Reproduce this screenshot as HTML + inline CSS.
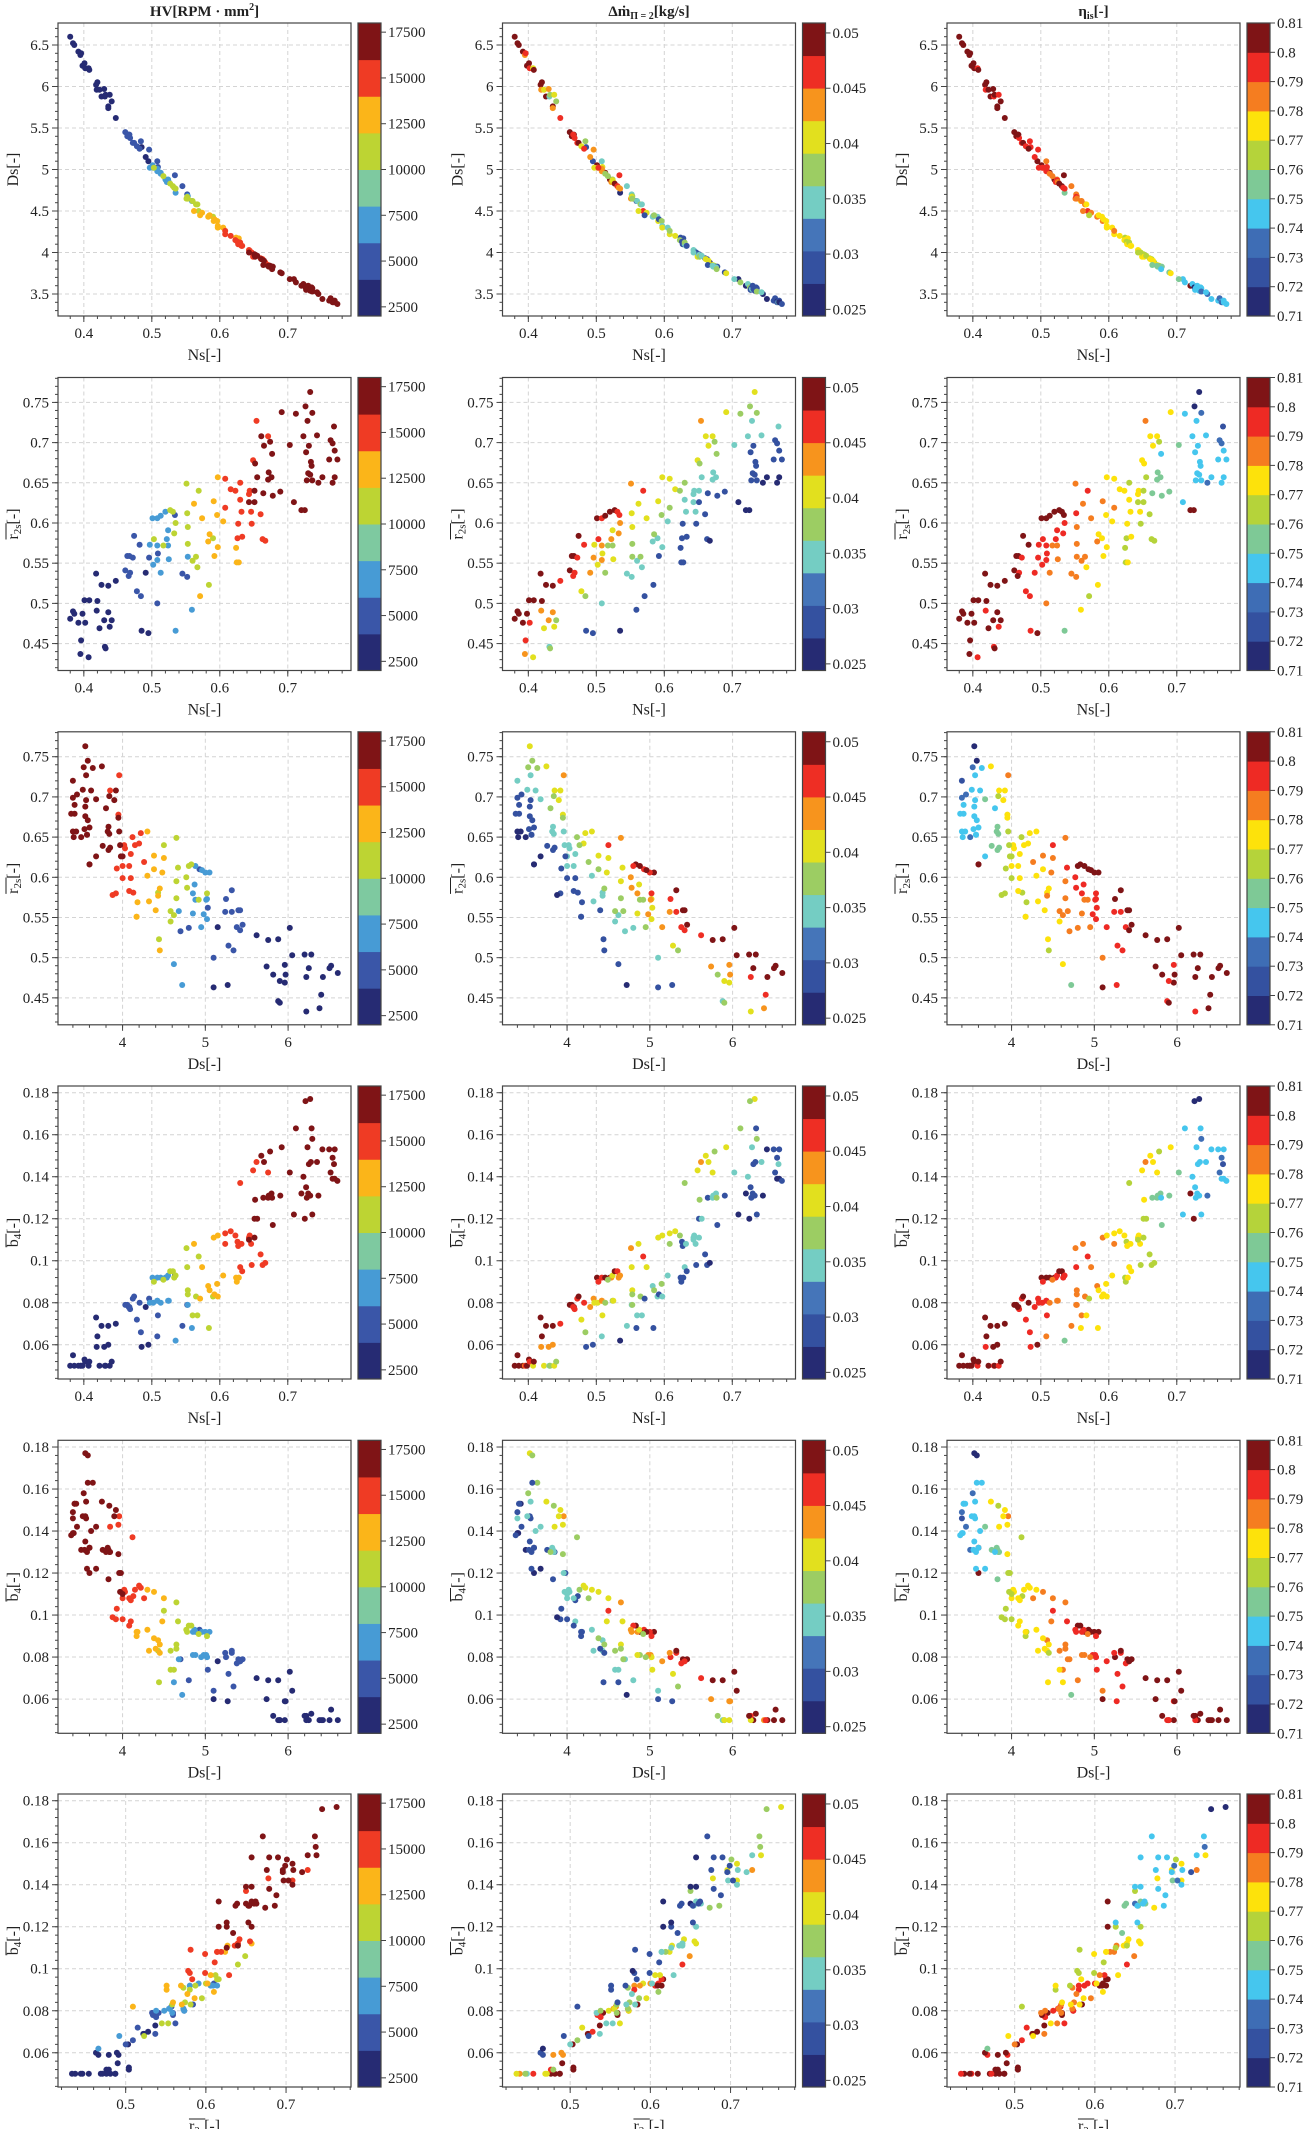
<!DOCTYPE html>
<html><head><meta charset="utf-8">
<style>
html,body{margin:0;padding:0;background:#fff;}
svg{display:block;font-family:"Liberation Serif","DejaVu Serif",serif;}
</style></head>
<body>
<svg id="fig" width="1308" height="2129" viewBox="0 0 1308 2129" xmlns="http://www.w3.org/2000/svg"></svg>
<script>
// ---- data (one entry per design sample) ----
const ns = [.380,.384,.386,.392,.395,.396,.398,.401,.402,.407,.408,.418,.419,.420,.423,.426,.430,.431,.432,.436,.436,.438,.441,.447,.485,.495,.491,
.461,.464,.467,.468,.466,.472,.474,.478,.482,.484,.496,.508,.509,.534,.545,.552,
.501,.508,.513,.520,.497,.508,.502,.508,.513,.522,.524,.524,.525,.535,.553,.559,
.503,.517,.527,.531,.535,.533,.551,.552,.553,.553,.560,.565,.567,.569,.584,.590,
.562,.574,.571,.583,.585,.591,.592,.596,.597,.597,.605,.624,.625,.628,
.608,.608,.616,.623,.626,.627,.630,.630,.632,.633,.643,.644,.646,.647,.649,.654,.660,.663,.667,.671,
.643,.651,.651,.652,.655,.661,.665,.674,.678,.689,.691,.709,.720,.725,.733,.736,.745,
.664,.671,.672,.676,.677,.703,.712,.723,.726,.727,.728,.729,.730,.731,.733,.734,.735,.736,.743,.751,.761,.763,.766,.766,.768,.769,.769,.773];
const ds = [6.6,6.52,6.5,6.42,6.38,6.4,6.25,6.28,6.22,6.22,6.2,6.02,5.96,6.05,5.96,5.88,5.97,5.88,5.9,5.76,5.74,5.9,5.82,5.62,5.27,5.1,5.15,
5.45,5.4,5.42,5.38,5.42,5.32,5.32,5.28,5.25,5.34,5.24,5.1,5.03,4.93,4.8,4.7,
5.05,5.0,4.96,4.88,5.02,5.01,5.02,4.98,4.95,4.85,4.88,4.87,4.85,4.72,4.68,4.62,
5.02,4.92,4.83,4.8,4.77,4.78,4.65,4.67,4.65,4.65,4.62,4.58,4.58,4.5,4.44,4.43,
4.5,4.48,4.45,4.43,4.45,4.38,4.4,4.38,4.32,4.3,4.3,4.18,4.17,4.17,
4.22,4.26,4.2,4.15,4.13,4.1,4.1,4.12,4.08,4.08,4.03,4.02,4.0,4.0,3.95,3.96,3.93,3.92,3.88,3.85,
4.0,3.98,3.97,3.95,3.96,3.92,3.9,3.84,3.83,3.76,3.75,3.68,3.6,3.6,3.55,3.57,3.5,
3.85,3.84,3.83,3.82,3.8,3.68,3.64,3.62,3.58,3.55,3.57,3.56,3.6,3.56,3.54,3.55,3.58,3.53,3.52,3.44,3.42,3.45,3.41,3.4,3.4,3.42,3.4,3.38];
const r2s = [.481,.490,.487,.476,.437,.454,.487,.504,.476,.433,.504,.537,.491,.503,.469,.523,.479,.446,.444,.522,.489,.471,.479,.528,.466,.463,.538,
.541,.559,.559,.538,.534,.557,.584,.515,.573,.509,.557,.500,.562,.610,.537,.533,
.606,.606,.609,.614,.573,.572,.548,.554,.538,.580,.572,.591,.555,.466,.558,.492,
.580,.572,.616,.614,.600,.587,.649,.612,.595,.574,.553,.558,.545,.640,.523,.581,
.624,.606,.509,.577,.586,.627,.559,.610,.570,.657,.602,.569,.551,.551,
.655,.619,.642,.640,.581,.599,.629,.650,.614,.583,.636,.640,.614,.599,.678,.727,.611,.580,.578,.708,
.626,.626,.640,.674,.657,.708,.696,.701,.634,.639,.738,.626,.616,.616,.763,.653,.650,
.637,.654,.663,.657,.686,.697,.736,.708,.745,.688,.653,.727,.662,.696,.660,.676,.671,.737,.709,.657,.679,.703,.650,.699,.720,.690,.657,.679];
const b4 = [.050,.055,.050,.050,.050,.050,.050,.053,.052,.050,.052,.073,.059,.064,.050,.069,.059,.050,.050,.069,.060,.050,.052,.070,.059,.060,.078,
.079,.079,.078,.077,.078,.082,.083,.072,.080,.066,.082,.064,.074,.093,.069,.079,
.092,.092,.092,.092,.080,.081,.080,.081,.080,.092,.081,.093,.081,.062,.079,.068,
.090,.091,.095,.095,.093,.092,.106,.097,.086,.084,.074,.083,.074,.102,.068,.083,
.108,.097,.082,.088,.086,.111,.084,.089,.083,.112,.093,.092,.090,.092,
.113,.108,.114,.112,.109,.107,.097,.137,.108,.095,.111,.112,.108,.098,.143,.147,.103,.098,.099,.142,
.110,.120,.111,.129,.120,.150,.147,.152,.117,.131,.154,.122,.132,.120,.177,.122,.131,
.130,.130,.131,.132,.130,.142,.163,.140,.176,.135,.130,.154,.132,.146,.131,.147,.163,.158,.147,.153,.153,.142,.139,.149,.146,.153,.139,.138];
const hv = [3000,3000,3000,3000,3000,3000,3000,3000,3000,3000,3000,3000,3000,3000,3000,3000,3000,3000,3000,3000,3000,3000,3000,3000,3000,3000,3000,
5000,5000,5000,5000,5000,5000,5000,5000,5000,5000,5000,5000,5000,5000,5000,5000,
7500,7500,7500,7500,7500,7500,7500,7500,7500,7500,7500,7500,7500,7500,7500,7500,
10000,10000,10000,10000,10000,10000,10000,10000,10000,10000,10000,10000,10000,10000,10000,10000,
12000,12000,12000,12000,12000,12000,12000,12000,12000,12000,12000,12000,12000,12000,
14000,14000,14000,14000,14000,14000,14000,14000,14000,14000,14000,14000,14000,14000,14000,14000,14000,14000,14000,14000,
16000,16000,16000,16000,16000,16000,16000,16000,16000,16000,16000,16000,16000,16000,16000,16000,16000,
17500,17500,17500,17500,17500,17500,17500,17500,17500,17500,17500,17500,17500,17500,17500,17500,17500,17500,17500,17500,17500,17500,17500,17500,17500,17500,17500,17500];
const dm = [.050,.050,.050,.050,.044,.047,.050,.050,.047,.041,.050,.050,.044,.050,.041,.050,.044,.036,.038,.050,.044,.041,.038,.047,.030,.030,.044,
.050,.050,.050,.047,.047,.047,.050,.041,.047,.038,.044,.035,.041,.047,.035,.035,
.050,.047,.050,.050,.041,.044,.041,.044,.038,.044,.038,.041,.041,.026,.038,.030,
.047,.038,.050,.047,.044,.044,.044,.041,.041,.038,.035,.038,.035,.047,.030,.035,
.041,.041,.030,.035,.038,.041,.030,.038,.035,.041,.035,.029,.028,.028,
.041,.038,.041,.038,.029,.030,.035,.038,.035,.029,.035,.035,.035,.030,.041,.044,.030,.028,.026,.041,
.035,.030,.035,.038,.035,.041,.041,.038,.030,.030,.041,.026,.026,.026,.041,.028,.026,
.030,.035,.035,.035,.038,.035,.038,.035,.038,.030,.029,.035,.029,.030,.029,.029,.029,.038,.035,.026,.028,.030,.026,.029,.035,.029,.026,.029];
const eta = [.805,.805,.805,.805,.805,.805,.805,.805,.805,.795,.805,.805,.795,.805,.805,.805,.805,.795,.805,.805,.805,.795,.805,.805,.795,.805,.795,
.805,.80,.805,.795,.80,.795,.805,.795,.80,.79,.795,.785,.79,.80,.785,.78,
.805,.80,.80,.80,.795,.79,.79,.795,.785,.795,.785,.79,.785,.755,.785,.775,
.795,.785,.80,.80,.795,.79,.785,.79,.785,.78,.78,.785,.775,.79,.775,.775,
.78,.785,.765,.78,.775,.78,.77,.775,.77,.775,.775,.765,.765,.77,
.775,.78,.775,.775,.765,.77,.775,.765,.775,.77,.77,.77,.77,.765,.775,.78,.765,.765,.76,.77,
.765,.76,.765,.77,.765,.77,.77,.765,.755,.75,.775,.745,.80,.80,.715,.745,.735,
.755,.75,.75,.75,.745,.75,.74,.745,.715,.74,.745,.74,.745,.74,.745,.74,.74,.735,.745,.745,.74,.735,.745,.735,.725,.74,.745,.74];

// ---- colour scales / ticks ----
const hvTicks = [2500,5000,7500,10000,12500,15000,17500];
const dmTicks = [0.025,0.03,0.035,0.04,0.045,0.05];
const etaTicks = [0.71,0.72,0.73,0.74,0.75,0.76,0.77,0.78,0.79,0.8,0.81];
const hvColors = ['#262b73','#3a56a8','#479bd5','#7ec9a0','#bdd433','#fbb519','#ef3b24','#7f1416'];
const dmColors = ['#262b73','#3451a0','#4575b9','#74cdc3','#9ccd63','#e2e01e','#f7941d','#ee2e24','#7f1416'];
const etaColors = ['#262b73','#3451a0','#3e6db5','#45c6ee','#7ec996','#b5d33a','#fde20b','#f57d20','#ee2a24','#7f1416'];

const NS = 'http://www.w3.org/2000/svg';
const svg = document.getElementById('fig');
function mk(tag, attrs, parent){ const e=document.createElementNS(NS,tag); for(const k in attrs) e.setAttribute(k,attrs[k]); (parent||svg).appendChild(e); return e; }

const vars = {
  ns:{data:ns, dom:[0.362,0.793], major:[0.4,0.5,0.6,0.7], minor:0.02, lab:'Ns', over:false},
  dsx:{data:ds, dom:[3.22,6.76], major:[4,5,6], minor:0.2, lab:'Ds', over:false},
  dsy:{data:ds, dom:[3.235,6.765], major:[3.5,4,4.5,5,5.5,6,6.5], minor:0.1, lab:'Ds', over:false},
  r2y:{data:r2s, dom:[0.4165,0.781], major:[0.45,0.5,0.55,0.6,0.65,0.7,0.75], minor:0.01, lab:'r', sub:'2s', over:true},
  r2x:{data:r2s, dom:[0.4156,0.781], major:[0.5,0.6,0.7], minor:0.02, lab:'r', sub:'2s', over:true},
  b4:{data:b4, dom:[0.0437,0.1832], major:[0.06,0.08,0.1,0.12,0.14,0.16,0.18], minor:0.004, lab:'b', sub:'4', over:true}
};
const rows = [['ns','dsy'],['ns','r2y'],['dsx','r2y'],['ns','b4'],['dsx','b4'],['r2x','b4']];
const cols = [
  {data:hv, dom:[2000,18000], colors:hvColors, ticks:hvTicks, fmt:v=>String(v), name:'hv'},
  {data:dm, dom:[0.0244,0.0509], colors:dmColors, ticks:dmTicks, fmt:v=>String(v), name:'mass-flow'},
  {data:eta, dom:[0.71,0.81], colors:etaColors, ticks:etaTicks, fmt:v=>String(v), name:'efficiency'}
];
const AX0=[58,502.5,947], AW=293, AH=293, CBW=23;
const ROWTOP=[23,377.5,731.8,1086,1440.3,1794];

function fmtTick(v){ return String(parseFloat(v.toFixed(4))); }
function colorOf(col,v){ const n=col.colors.length; let i=Math.floor((v-col.dom[0])/(col.dom[1]-col.dom[0])*n); i=Math.max(0,Math.min(n-1,i)); return col.colors[i]; }

function axisLabel(g, v, x, y, rotate, name){
  const t = mk('text',{x:x,y:y,'font-size':16,'text-anchor':'middle',fill:'#222', transform: rotate?`rotate(-90 ${x} ${y})`:''},g);
  
  
  const a = document.createElementNS(NS,'tspan'); a.textContent=v.lab; t.appendChild(a);
  if(v.sub){ const s=document.createElementNS(NS,'tspan'); s.setAttribute('font-size','11'); s.setAttribute('dy','3'); s.textContent=v.sub; t.appendChild(s);
    const c=document.createElementNS(NS,'tspan'); c.setAttribute('dy','-3'); c.textContent='[-]'; t.appendChild(c); }
  else { const c=document.createElementNS(NS,'tspan'); c.textContent='[-]'; t.appendChild(c); }
  if(v.over){
    try{
      const bb=t.getBBox(); const w=a.getComputedTextLength()+ (v.sub?v.sub.length*5.5:0);
      const x0 = bb.x, yy = bb.y+1;
      mk('line',{x1:x0,x2:x0+w,y1:yy,y2:yy,stroke:'#222','stroke-width':1,transform: rotate?`rotate(-90 ${x} ${y})`:''},g);
    }catch(e){}
  }
}

rows.forEach((rv,ri)=>{
  cols.forEach((col,ci)=>{
    const X=vars[rv[0]], Y=vars[rv[1]];
    const x0=AX0[ci], y0=ROWTOP[ri];
    const sx=v=>x0+(v-X.dom[0])/(X.dom[1]-X.dom[0])*AW;
    const sy=v=>y0+AH-(v-Y.dom[0])/(Y.dom[1]-Y.dom[0])*AH;
    const g=mk('g',{});
    
    
    mk('rect',{x:x0,y:y0,width:AW,height:AH,fill:'#fff'},g);
    X.major.forEach(t=>{ mk('line',{x1:sx(t),x2:sx(t),y1:y0,y2:y0+AH,stroke:'#d4d4d4','stroke-dasharray':'4,3','stroke-width':1},g); });
    Y.major.forEach(t=>{ mk('line',{x1:x0,x2:x0+AW,y1:sy(t),y2:sy(t),stroke:'#d4d4d4','stroke-dasharray':'4,3','stroke-width':1},g); });
    const pts=mk('g',{},g);
    
    
    for(let i=0;i<X.data.length;i++){
      const c=mk('circle',{cx:sx(X.data[i]).toFixed(1),cy:sy(Y.data[i]).toFixed(1),r:3,fill:colorOf(col,col.data[i])},pts);
      
      
    }
    mk('rect',{x:x0,y:y0,width:AW,height:AH,fill:'none',stroke:'#444','stroke-width':1.2},g);
    const xa=mk('g',{},g);
    
    
    const xs=Math.ceil(X.dom[0]/X.minor-1e-6);
    for(let k=xs;k*X.minor<=X.dom[1];k++){ const v=k*X.minor; mk('line',{x1:sx(v),x2:sx(v),y1:y0+AH,y2:y0+AH+3,stroke:'#444'},xa); }
    X.major.forEach(t=>{ mk('line',{x1:sx(t),x2:sx(t),y1:y0+AH,y2:y0+AH+6,stroke:'#444'},xa);
      const tx=mk('text',{x:sx(t),y:y0+AH+22,'font-size':15,'text-anchor':'middle',fill:'#222'},xa); tx.textContent=fmtTick(t);
        });
    axisLabel(g,X,x0+AW/2,y0+AH+44,false,'x-axis-title');
    const ya=mk('g',{},g);
    
    
    const ys=Math.ceil(Y.dom[0]/Y.minor-1e-6);
    for(let k=ys;k*Y.minor<=Y.dom[1];k++){ const v=k*Y.minor; mk('line',{x1:x0-3,x2:x0,y1:sy(v),y2:sy(v),stroke:'#444'},ya); }
    Y.major.forEach(t=>{ mk('line',{x1:x0-6,x2:x0,y1:sy(t),y2:sy(t),stroke:'#444'},ya);
      const tx=mk('text',{x:x0-9,y:sy(t)+5,'font-size':15,'text-anchor':'end',fill:'#222'},ya); tx.textContent=fmtTick(t);
        });
    axisLabel(g,Y,x0-40,y0+AH/2,true,'y-axis-title');
    const cb=mk('g',{},g);
    
    
    const cx=x0+AW+7, n=col.colors.length;
    col.colors.forEach((c,k)=>{ const h=AH/n; mk('rect',{x:cx,y:y0+AH-(k+1)*h,width:CBW,height:h+0.5,fill:c},cb); });
    mk('rect',{x:cx,y:y0,width:CBW,height:AH,fill:'none',stroke:'#444','stroke-width':1.2},cb);
    col.ticks.forEach(t=>{ const yy=y0+AH-(t-col.dom[0])/(col.dom[1]-col.dom[0])*AH;
      mk('line',{x1:cx+CBW,x2:cx+CBW+5,y1:yy,y2:yy,stroke:'#444'},cb);
      const tx=mk('text',{x:cx+CBW+7,y:yy+5,'font-size':15,fill:'#222'},cb); tx.textContent=col.fmt(t);
        });
  });
});

const titles=[
  {x:AX0[0]+AW/2, html:['HV[RPM · mm','2',']'], sup:true, name:'title-hv'},
  {x:AX0[1]+AW/2, html:['Δṁ','Π = 2','[kg/s]'], sup:false, name:'title-mass-flow'},
  {x:AX0[2]+AW/2, html:['η','is','[-]'], sup:false, name:'title-efficiency'}
];
titles.forEach(tt=>{
  const t=mk('text',{x:tt.x,y:16,'font-size':15,'font-weight':'bold','text-anchor':'middle',fill:'#222'});
  
  
  const a=document.createElementNS(NS,'tspan'); a.textContent=tt.html[0]; t.appendChild(a);
  const b=document.createElementNS(NS,'tspan'); b.setAttribute('font-size','10'); b.setAttribute('dy',tt.sup?'-6':'3'); b.textContent=tt.html[1]; t.appendChild(b);
  const c=document.createElementNS(NS,'tspan'); c.setAttribute('dy',tt.sup?'6':'-3'); c.textContent=tt.html[2]; t.appendChild(c);
});
</script>
</body></html>
